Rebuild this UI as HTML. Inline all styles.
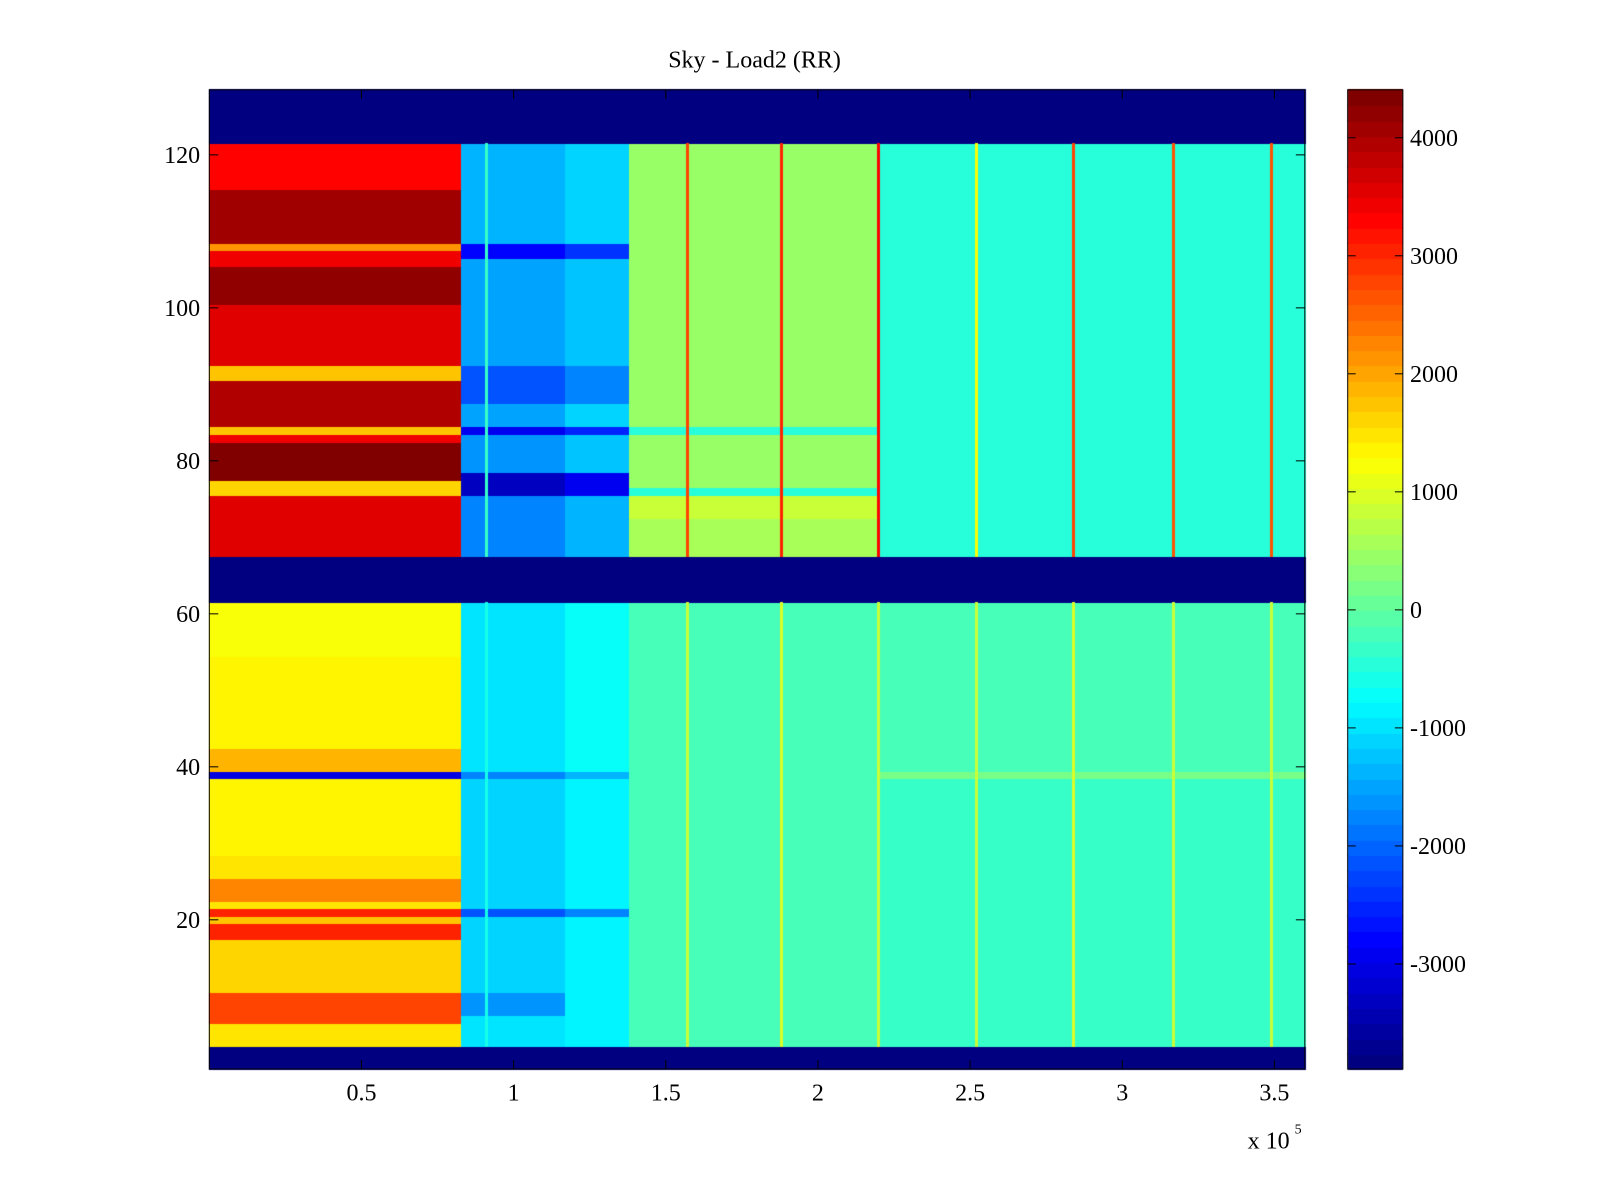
<!DOCTYPE html>
<html><head><meta charset="utf-8">
<style>
html,body{margin:0;padding:0;background:#fff;}
#wrap{position:relative;width:1600px;height:1200px;}
canvas,svg{position:absolute;left:0;top:0;}
text{font-family:"Liberation Serif",serif;font-size:24px;fill:#000;}
</style></head>
<body>
<div id="wrap">
<canvas id="cv" width="1600" height="1200"></canvas>
<svg id="sv" width="1600" height="1200"></svg>
</div>
<script>
// ---- data ----
const xSegments = [0, 0.83, 1.17, 1.38, 2.2, 3.6];
const segA = [[1,3,-3890],[4,6,1500],[7,10,2800],[11,17,1600],[18,19,3100],[20,20,1700],[21,21,3000],[22,22,1500],[23,25,2300],[26,28,1500],[29,38,1400],[39,39,-3000],[40,42,1900],[43,54,1300],[55,61,1200],[62,67,-3890],[68,75,3500],[76,77,1600],[78,82,4300],[83,83,3400],[84,84,1800],[85,90,4000],[91,92,1800],[93,100,3500],[101,105,4200],[106,107,3400],[108,108,2200],[109,115,4100],[116,121,3300],[122,128,-3890]];
const segB = [[1,3,-3890],[4,7,-1000],[8,10,-1600],[11,20,-1100],[21,21,-2100],[22,38,-1100],[39,39,-1800],[40,61,-1000],[62,67,-3890],[68,75,-1700],[76,78,-3300],[79,83,-1600],[84,84,-2900],[85,87,-1500],[88,92,-2100],[93,106,-1500],[107,108,-2800],[109,121,-1400],[122,128,-3890]];
const segC = [[1,3,-3890],[4,20,-800],[21,21,-1700],[22,38,-800],[39,39,-1400],[40,61,-700],[62,67,-3890],[68,75,-1300],[76,78,-2900],[79,83,-1200],[84,84,-2500],[85,87,-1100],[88,92,-1700],[93,106,-1200],[107,108,-2400],[109,121,-1100],[122,128,-3890]];
const segD = [[1,3,-3890],[4,61,-150],[62,67,-3890],[68,72,600],[73,75,900],[76,76,-400],[77,83,500],[84,84,-500],[85,121,400],[122,128,-3890]];
const segE = [[1,3,-3890],[4,38,-300],[39,39,200],[40,61,-250],[62,67,-3890],[68,121,-450],[122,128,-3890]];
const segments = [segA, segB, segC, segD, segE];
const streakX = [0.91, 1.57, 1.88, 2.2, 2.52, 2.84, 3.17, 3.49];
const streakUpper = [-300, 2800, 3000, 3300, 1200, 2800, 2600, 2600];
const streakLower = [-600, 900, 1000, 900, 800, 1000, 800, 800];
const yTicks = [20, 40, 60, 80, 100, 120];
const xTicks = [0.5, 1, 1.5, 2, 2.5, 3, 3.5];
const cbTicks = [-3000, -2000, -1000, 0, 1000, 2000, 3000, 4000];

// ---- geometry ----
const S = 1.021;
const L=205*S, R=1278*S, T=88*S, B=1047*S;
const xMin=0, xMax=3.6, yMin=0.5, yMax=128.5;
const cMin=-3890, cMax=4406;
const CBL=1320*S, CBR=1374*S;
const sx = v => L + (v - xMin) / (xMax - xMin) * (R - L);
const sy = v => B - (v - yMin) / (yMax - yMin) * (B - T);
const cy = v => B - (v - cMin) / (cMax - cMin) * (B - T);

function jet(t){
  t=Math.max(0,Math.min(1,t));
  t=Math.floor(t*63.999)/63;
  const f=x=>Math.max(0,Math.min(1,x));
  const r=f(1.5-Math.abs(4*t-3)), g=f(1.5-Math.abs(4*t-2)), b=f(1.5-Math.abs(4*t-1));
  return `rgb(${Math.round(r*255)},${Math.round(g*255)},${Math.round(b*255)})`;
}
function rowVal(seg,row){for(const s of seg){if(row>=s[0]&&row<=s[1])return s[2];}return 0;}

const cv=document.getElementById('cv'), ctx=cv.getContext('2d');
for(let k=0;k<segments.length;k++){
  const x0=sx(xSegments[k]), x1=sx(xSegments[k+1]);
  for(let r=1;r<=128;r++){
    const v=rowVal(segments[k],r);
    ctx.fillStyle=jet((v-cMin)/(cMax-cMin));
    const ya=sy(r+0.5), yb=sy(r-0.5);
    ctx.fillRect(Math.floor(x0),Math.floor(ya),Math.ceil(x1-x0)+1,Math.ceil(yb-ya)+1);
  }
}
for(let i=0;i<streakX.length;i++){
  const x=sx(streakX[i]);
  for(let r=1;r<=128;r++){
    if(r<=3||(r>=62&&r<=67)||r>=122) continue;
    const v=r>=68?streakUpper[i]:streakLower[i];
    ctx.fillStyle=jet((v-cMin)/(cMax-cMin));
    const ya=sy(r+0.5), yb=sy(r-0.5);
    ctx.fillRect(Math.floor(x)-1,Math.floor(ya),3,Math.ceil(yb-ya)+1);
  }
}
for(let i=0;i<64;i++){
  const ya=T+(63-i)/64*(B-T), yb=T+(64-i)/64*(B-T);
  ctx.fillStyle=jet(i/63);
  ctx.fillRect(CBL,Math.floor(ya),CBR-CBL,Math.ceil(yb-ya)+1);
}

// ---- axes (SVG) ----
const NS='http://www.w3.org/2000/svg', sv=document.getElementById('sv');
function el(tag,attrs,parent){const e=document.createElementNS(NS,tag);for(const k in attrs)e.setAttribute(k,attrs[k]);(parent||sv).appendChild(e);return e;}

const frame=el('rect',{x:L,y:T,width:R-L,height:B-T,fill:'none',stroke:'#000','stroke-width':1});


const cbf=el('rect',{x:CBL,y:T,width:CBR-CBL,height:B-T,fill:'none',stroke:'#000','stroke-width':1});



const title=el('text',{x:739*S,y:66*S,'text-anchor':'middle'});
title.textContent='Sky - Load2 (RR)';



for(const v of yTicks){
  const y=sy(v);
  el('line',{x1:L,y1:y,x2:L+9,y2:y,stroke:'#000'});
  el('line',{x1:R,y1:y,x2:R-9,y2:y,stroke:'#000'});
  const t=el('text',{x:196*S,y:y+8,'text-anchor':'end'});
  t.textContent=v;
  
  
}
for(const v of xTicks){
  const x=sx(v);
  el('line',{x1:x,y1:B,x2:x,y2:B-9,stroke:'#000'});
  el('line',{x1:x,y1:T,x2:x,y2:T+9,stroke:'#000'});
  const t=el('text',{x:x,y:1078*S,'text-anchor':'middle'});
  t.textContent=v;
  
  
}
const ex=el('text',{x:1222*S,y:1125*S});
ex.textContent='x 10';


const sup=el('text',{x:1268*S,y:1110*S,style:'font-size:14px'});
sup.textContent='5';



for(const v of cbTicks){
  const y=cy(v);
  el('line',{x1:CBL,y1:y,x2:CBL+8,y2:y,stroke:'#000'});
  el('line',{x1:CBR,y1:y,x2:CBR-8,y2:y,stroke:'#000'});
  const t=el('text',{x:1381*S,y:y+8});
  t.textContent=v;
  
  
}
</script>
</body></html>
